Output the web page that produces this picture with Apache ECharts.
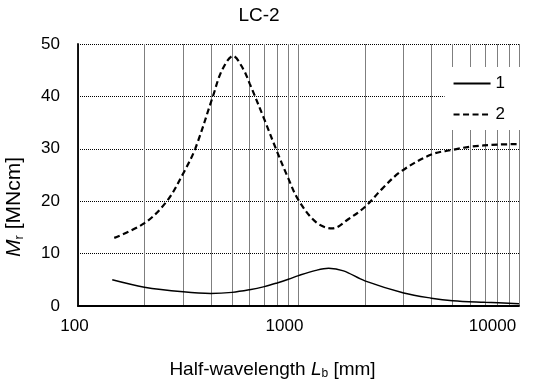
<!DOCTYPE html>
<html>
<head>
<meta charset="utf-8">
<script src="https://cdn.jsdelivr.net/npm/echarts@6/dist/echarts.min.js"></script>
<style>html,body{margin:0;padding:0;background:#fff}#c{width:550px;height:381px}</style>
</head>
<body>
<div id="c"></div>
<script>
const title = 'LC-2';
const seriesNames = ['1', '2'];
const x1 = [143, 200, 300, 400, 500, 600, 700, 800, 900, 1000, 1200, 1370, 1600, 2000, 3000, 4000, 5000, 7000, 10000];
const y1 = [5.0, 3.6, 2.7, 2.4, 2.6, 3.1, 3.7, 4.4, 5.1, 5.8, 6.8, 7.2, 6.7, 4.8, 2.5, 1.5, 1.0, 0.7, 0.45];
const x2 = [146, 200, 253, 300, 340, 409, 450, 505, 560, 600, 700, 790, 900, 1000, 1200, 1420, 1700, 2000, 2400, 2900, 4000, 5000, 6000, 8000, 10000];
const y2 = [13.0, 15.8, 20.0, 25.3, 30.0, 40.0, 45.0, 47.7, 45.3, 42.5, 35.6, 30.0, 24.3, 20.2, 16.0, 14.8, 16.7, 18.9, 22.4, 25.6, 28.9, 29.8, 30.4, 30.8, 30.9];
const xTicks = [100, 1000, 10000];
const yTicks = [0, 10, 20, 30, 40, 50];

const F = '"Liberation Sans", Arial, sans-serif';
const xLabelStyle = ['a', 'b', 'c'];
const chart = echarts.init(document.getElementById('c'), null, {renderer: 'canvas'});
chart.setOption({
  animation: false,
  backgroundColor: '#fff',
  textStyle: {fontFamily: F, color: '#000'},
  title: {text: title, left: 254, top: 1, textAlign: 'center',
    textStyle: {fontFamily: F, fontSize: 19, fontWeight: 'normal', color: '#000'}},
  grid: {left: 78, right: 31, top: 44, bottom: 75, containLabel: false, outerBoundsMode: 'none'},
  legend: {
    orient: 'vertical', right: 30, top: 67, padding: [8, 15, 7, 8],
    backgroundColor: '#fff', itemWidth: 37, itemHeight: 14, itemGap: 14,
    itemStyle: {opacity: 0},
    textStyle: {fontFamily: F, fontSize: 17, color: '#000'},
    data: seriesNames
  },
  xAxis: {
    type: 'log', logBase: 10, min: xTicks[0], max: xTicks[xTicks.length - 1],
    name: '{n|Half-wavelength }{i|L}{s|b}{n| [mm]}', nameLocation: 'middle', nameGap: 53,
    nameTextStyle: {fontFamily: F, fontSize: 19, color: '#000', padding: [0, 52, 0, 0],
      rich: {n: {fontFamily: F, fontSize: 19, color: '#000'},
             i: {fontFamily: F, fontSize: 19, fontStyle: 'italic', color: '#000'},
             s: {fontFamily: F, fontSize: 12, color: '#000', padding: [9, 0, 0, 0]}}},
    axisLine: {show: true, onZero: false, lineStyle: {color: '#000', width: 1.8}},
    axisTick: {show: false},
    axisLabel: {fontFamily: F, fontSize: 17, color: '#000', margin: 12,
      formatter: function (v) {
        const k = xTicks.indexOf(v);
        return k >= 0 ? '{' + xLabelStyle[k] + '|' + v + '}' : String(v);
      },
      rich: {
        a: {fontFamily: F, fontSize: 17, color: '#000', padding: [0, 7, 0, 0]},
        b: {fontFamily: F, fontSize: 17, color: '#000', padding: [0, 28, 0, 0]},
        c: {fontFamily: F, fontSize: 17, color: '#000', padding: [0, 53, 0, 0]}
      }},
    splitLine: {show: true, lineStyle: {color: '#7f7f7f', width: 1}},
    minorTick: {show: false, splitNumber: 9},
    minorSplitLine: {show: true, lineStyle: {color: '#7f7f7f', width: 1}}
  },
  yAxis: {
    type: 'value', min: yTicks[0], max: yTicks[yTicks.length - 1], interval: 10,
    name: '{i|M}{s|r}{n| [MNcm]}', nameLocation: 'middle', nameGap: 52,
    nameTextStyle: {fontFamily: F, fontSize: 21, color: '#000', padding: [0, 64, 0, 0],
      rich: {n: {fontFamily: F, fontSize: 21, color: '#000'},
             i: {fontFamily: F, fontSize: 21, fontStyle: 'italic', color: '#000'},
             s: {fontFamily: F, fontSize: 13, color: '#000', padding: [10, 0, 0, 0]}}},
    axisLine: {show: true, lineStyle: {color: '#000', width: 1.8}},
    axisTick: {show: false},
    axisLabel: {fontFamily: F, fontSize: 17, color: '#000', margin: 18},
    splitLine: {show: true, lineStyle: {color: '#000', width: 1, type: [1, 1]}}
  },
  series: [
    {name: seriesNames[0], type: 'line', smooth: 0.35, symbol: 'none',
     lineStyle: {color: '#000', width: 1.5},
     data: x1.map((v, i) => [v, y1[i]])},
    {name: seriesNames[1], type: 'line', smooth: 0.35, symbol: 'none',
     lineStyle: {color: '#000', width: 2.2, type: [6, 3.5]},
     data: x2.map((v, i) => [v, y2[i]])}
  ]
});
</script>
</body>
</html>
